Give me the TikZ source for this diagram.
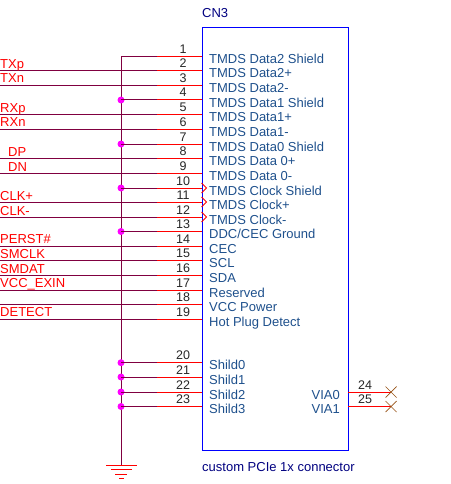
\documentclass[tikz,border=0pt]{standalone}
\usepackage{fontspec}
\setmainfont{Liberation Sans}
\definecolor{wirered}{RGB}{255,0,0}
\definecolor{wirebus}{RGB}{128,0,64}
\definecolor{pinblue}{RGB}{30,80,140}
\definecolor{boxblue}{RGB}{0,0,255}
\definecolor{titleblue}{RGB}{0,0,128}
\definecolor{dotm}{RGB}{255,0,255}
\definecolor{xbrown}{RGB}{150,80,20}
\tikzset{
 x=1pt,y=-1pt,
 netlabel/.style={text=wirered,font=\fontsize{13}{13}\selectfont,anchor=base west,inner sep=0pt},
 pinname/.style={text=pinblue,font=\fontsize{13}{13}\selectfont,anchor=base west,inner sep=0pt},
 pinnum/.style={text=black!85,font=\fontsize{12.5}{13}\selectfont,anchor=base,inner sep=0pt},
 title/.style={text=titleblue,font=\fontsize{13}{13}\selectfont,anchor=base west,inner sep=0pt},
 pinwire/.style={wirered,line width=1pt},
 net/.style={wirebus,line width=1pt},
 junction/.style={circle,fill=dotm,inner sep=0pt,minimum size=7pt},
 clk/.style={wirered,line width=1pt},
 nc/.style={xbrown,line width=0.7pt},
}
\begin{document}
\begin{tikzpicture}
\useasboundingbox (0,0) rectangle (450,484);
\node[draw=boxblue,line width=1pt,minimum width=146pt,minimum height=423pt,anchor=north west,inner sep=0pt] (cn) at (202,27) {};
\node[title] (cntitle) at (202,17.5) {CN3};
\node[title] (cnname) at (202,471.5) {custom PCIe 1x connector};
% pins: number, y, name
\foreach \n/\y/\t in {1/56.5/TMDS Data2 Shield,2/71/TMDS Data2+,3/85.5/TMDS Data2-,4/100/TMDS Data1 Shield,5/114.5/TMDS Data1+,6/129/TMDS Data1-,7/144/TMDS Data0 Shield,8/158.5/TMDS Data 0+,9/173/TMDS Data 0-,10/188/TMDS Clock Shield,11/202/TMDS Clock+,12/217/TMDS Clock-,13/231.5/{DDC/CEC Ground},14/246/CEC,15/260.5/SCL,16/275/SDA,17/290/Reserved,18/304/VCC Power,19/319/Hot Plug Detect,20/362.7/Shild0,21/377/Shild1,22/392/Shild2,23/406.5/Shild3}{
  \coordinate (p\n) at (202,\y);
  \coordinate (m\n) at (157,\y);
  \draw[pinwire] (m\n) -- (p\n);
  \node[pinnum] (num\n) at (183,\y-3) {\n};
  \node[pinname] (name\n) at (209,\y+7) {\t};
}
\coordinate (bustop) at (121,56.5);
\coordinate (gnd) at (121,465);
\draw[net] (m1) -- (bustop) -- (gnd);
% signal nets
\foreach \n/\y in {2/71,3/85.5,5/114.5,6/129,8/158.5,9/173,11/202,12/217,14/246,15/260.5,16/275,17/290,18/304,19/319}{
  \coordinate (l\n) at (0,\y);
  \draw[net] (l\n) -- (m\n);
}
% shield nets with junctions
\foreach \n/\y in {4/100,7/144,10/188,13/231.5,20/362.7,21/377,22/392,23/406.5}{
  \node[junction] (j\n) at (121,\y) {};
  \draw[net] (j\n.center) -- (m\n);
}
% net labels
\foreach \nm/\x/\y/\t in {a/0/68.5/TXp,b/0/83/TXn,c/0/112.5/RXp,d/0/127/RXn,e/8/156.5/DP,f/8/171/DN,g/0/200.5/CLK+,h/0/215/CLK-,i/0/243.5/PERST\#,j/0/258.5/SMCLK,k/0/273/SMDAT,l/0/287.5/VCC\_EXIN,m/0/316.5/DETECT}{
  \node[netlabel] (lab\nm) at (\x,\y) {\t};
}
% clock arrows
\foreach \n in {10,11,12}{
  \draw[clk] ([xshift=-0.5pt,yshift=-5pt]p\n) -- ([xshift=4.5pt]p\n) -- ([xshift=-0.5pt,yshift=5pt]p\n);
}
% ground
\coordinate (g1a) at (106,465); \coordinate (g1b) at (137,465);
\coordinate (g2a) at (111,469.5); \coordinate (g2b) at (132,469.5);
\coordinate (g3a) at (115,474); \coordinate (g3b) at (127,474);
\coordinate (g4a) at (119,478.5); \coordinate (g4b) at (124,478.5);
\draw[pinwire] (g1a) -- (g1b);
\draw[pinwire] (g2a) -- (g2b);
\draw[pinwire] (g3a) -- (g3b);
\draw[pinwire] (g4a) -- (g4b);
% VIA pins
\foreach \n/\y/\t in {24/392/VIA0,25/406.5/VIA1}{
  \coordinate (p\n) at (348,\y);
  \coordinate (x\n) at (391,\y);
  \draw[pinwire] (p\n) -- (x\n);
  \node[pinnum] (num\n) at (365,\y-3) {\n};
  \node[pinname,anchor=base east] (name\n) at (340,\y+7) {\t};
  \draw[nc] ([xshift=-5.5pt,yshift=-5.5pt]x\n) -- ([xshift=5.5pt,yshift=5.5pt]x\n);
  \draw[nc] ([xshift=-5.5pt,yshift=5.5pt]x\n) -- ([xshift=5.5pt,yshift=-5.5pt]x\n);
}
\end{tikzpicture}
\end{document}
